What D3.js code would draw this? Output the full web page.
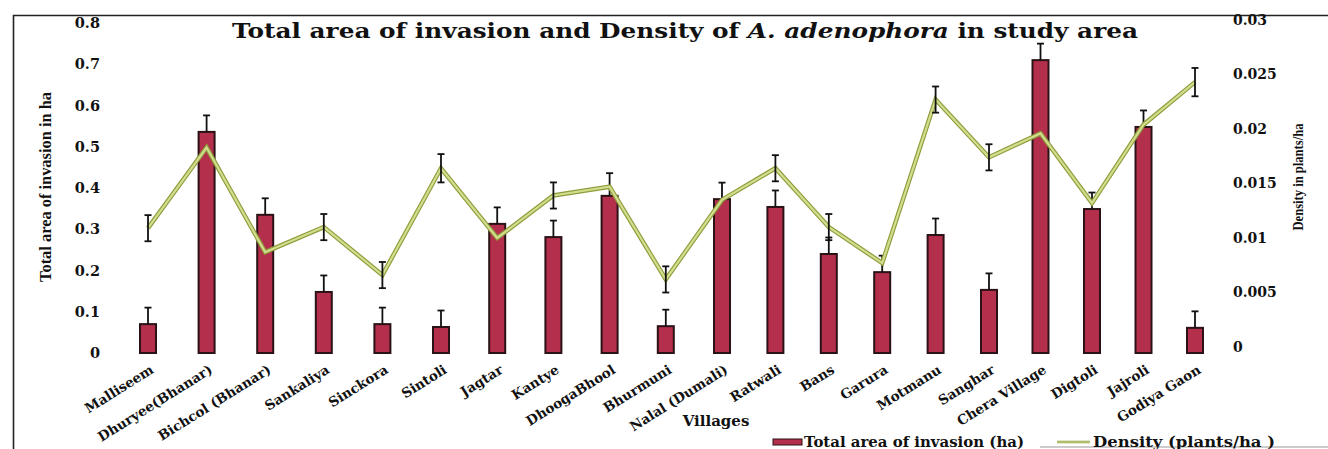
<!DOCTYPE html>
<html><head><meta charset="utf-8">
<script src="https://cdn.jsdelivr.net/npm/d3@7"></script>
<style>body{margin:0;background:#fff}svg{display:block}</style>
</head><body>
<svg id="c" width="1328" height="449"></svg>
<script>
const villages = ["Malliseem","Dhuryee(Bhanar)","Bichcol (Bhanar)","Sankaliya","Sinckora","Sintoli","Jagtar","Kantye","DhoogaBhool","Bhurmuni","Nalal (Dumali)","Ratwali","Bans","Garura","Motmanu","Sanghar","Chera Village","Digtoli","Jajroli","Godiya Gaon"];
const areaHa = [0.070,0.536,0.335,0.148,0.070,0.063,0.313,0.281,0.381,0.065,0.373,0.354,0.240,0.196,0.286,0.153,0.710,0.349,0.548,0.061];
const areaErr = [0.04,0.04,0.04,0.04,0.04,0.04,0.04,0.04,0.055,0.04,0.04,0.04,0.04,0.04,0.04,0.04,0.04,0.04,0.04,0.04];
const density = [0.0109,0.0183,0.0087,0.0110,0.0066,0.0164,0.0100,0.0139,0.0147,0.0062,0.0135,0.0164,0.0110,0.0077,0.0227,0.0174,0.0196,0.0132,0.0204,0.0243];
const densityErr = [0.0012,0,0,0.0012,0.0012,0.0013,0,0.0012,0,0.0012,0,0.0012,0.0012,0,0.0012,0.0012,0,0,0,0.0013];
const leftTicks = [0,0.1,0.2,0.3,0.4,0.5,0.6,0.7,0.8];
const leftTickLabels = ["0","0.1","0.2","0.3","0.4","0.5","0.6","0.7","0.8"];
const rightTicks = [0,0.005,0.01,0.015,0.02,0.025,0.03];
const rightTickLabels = ["0","0.005","0.01","0.015","0.02","0.025","0.03"];

const svg = d3.select("#c");
const serif = "'DejaVu Serif', serif";
const times = "'Liberation Serif', serif";

// frame
svg.append("path").attr("d","M13.5,449 V15.5 H1328").attr("fill","none").attr("stroke","#222").attr("stroke-width",1.6);
svg.append("line").attr("x1",1040).attr("x2",1328).attr("y1",447).attr("y2",447).attr("stroke","#999").attr("stroke-width",1);

const idx = d3.range(villages.length);
const x = d3.scaleLinear().domain([0,5,10,15,19]).range([148,441,722,989,1195]);
const yL = d3.scaleLinear().domain([0,0.8]).range([353,23]);
const yR = d3.scaleLinear().domain([0,0.03]).range([347,20]);
const bw = 16;

// left axis labels
const la = d3.axisLeft(yL).tickValues(leftTicks).tickFormat((d,i)=>leftTickLabels[i]).tickSize(0).tickPadding(0);
const gL = svg.append("g").attr("transform","translate(100,0)").call(la);
gL.select(".domain").remove();
gL.selectAll("text").attr("font-family",serif).attr("font-weight","bold").attr("font-size",14.5).attr("fill","#111");

const ra = d3.axisRight(yR).tickValues(rightTicks).tickFormat((d,i)=>rightTickLabels[i]).tickSize(0).tickPadding(0);
const gR = svg.append("g").attr("transform","translate(1233,0)").call(ra);
gR.select(".domain").remove();
gR.selectAll("text").attr("font-family",serif).attr("font-weight","bold").attr("font-size",14).attr("fill","#111");

// bars
svg.append("g").selectAll("rect").data(idx).join("rect")
  .attr("x",i=>x(i)-bw/2).attr("width",bw)
  .attr("y",i=>yL(areaHa[i])).attr("height",i=>yL(0)-yL(areaHa[i]))
  .attr("fill","#b42f4c").attr("stroke","#2a1216").attr("stroke-width",2);

// bar error bars (up)
const eb = svg.append("g").attr("stroke","#111").attr("stroke-width",1.8);
idx.forEach(i=>{
  const y0 = yL(areaHa[i]), y1 = yL(areaHa[i]+areaErr[i]);
  eb.append("line").attr("x1",x(i)).attr("x2",x(i)).attr("y1",y0).attr("y2",y1);
  eb.append("line").attr("x1",x(i)-3.5).attr("x2",x(i)+3.5).attr("y1",y1).attr("y2",y1);
});

// density line
const line = d3.line().x(i=>x(i)).y(i=>yR(density[i]));
svg.append("path").datum(idx).attr("d",line).attr("fill","none").attr("stroke","#8f9c3c").attr("stroke-width",4.5).attr("stroke-linejoin","miter");
svg.append("path").datum(idx).attr("d",line).attr("fill","none").attr("stroke","#d3dd8e").attr("stroke-width",2.2).attr("stroke-linejoin","miter");

// density error bars
const ed = svg.append("g").attr("stroke","#111").attr("stroke-width",1.8);
idx.filter(i=>densityErr[i]>0).forEach(i=>{
  const a = yR(density[i]+densityErr[i]), b = yR(density[i]-densityErr[i]);
  ed.append("line").attr("x1",x(i)).attr("x2",x(i)).attr("y1",a).attr("y2",b);
  ed.append("line").attr("x1",x(i)-3.5).attr("x2",x(i)+3.5).attr("y1",a).attr("y2",a);
  ed.append("line").attr("x1",x(i)-3.5).attr("x2",x(i)+3.5).attr("y1",b).attr("y2",b);
});

// x labels
svg.append("g").selectAll("text").data(idx).join("text")
  .attr("transform",i=>`translate(${x(i)+1},${363}) rotate(-32)`)
  .attr("text-anchor","end").attr("dy","0.8em")
  .attr("font-family",serif).attr("font-weight","bold").attr("font-size",13.5).attr("fill","#111")
  .text(i=>villages[i]);

svg.append("text").attr("x",716).attr("y",426).attr("text-anchor","middle")
  .attr("font-family",serif).attr("font-weight","bold").attr("font-size",15).attr("fill","#111").text("Villages");

// axis titles
function fit(sel, len){ sel.attr("textLength",len).attr("lengthAdjust","spacingAndGlyphs"); }
const lt = svg.append("text").attr("transform","translate(51,187) rotate(-90)").attr("text-anchor","middle")
  .attr("font-family",times).attr("font-weight","bold").attr("font-size",16).attr("fill","#111").text("Total area of invasion in ha");
fit(lt,190);
const rt = svg.append("text").attr("transform","translate(1303,177) rotate(-90)").attr("text-anchor","middle")
  .attr("font-family",times).attr("font-weight","bold").attr("font-size",15).attr("fill","#111").text("Density in plants/ha");
fit(rt,107);

// title
const tt = svg.append("text").attr("x",232).attr("y",38)
  .attr("font-family",serif).attr("font-weight","bold").attr("font-size",20).attr("fill","#111");
tt.append("tspan").text("Total area of invasion and Density of ");
tt.append("tspan").attr("font-style","italic").text("A. adenophora");
tt.append("tspan").text(" in study area");
fit(tt,906);

// legend
svg.append("rect").attr("x",773).attr("y",439).attr("width",29).attr("height",6).attr("fill","#b42f4c").attr("stroke","#2a1216").attr("stroke-width",1);
const l1 = svg.append("text").attr("x",804).attr("y",447).attr("font-family",serif).attr("font-weight","bold").attr("font-size",14).attr("fill","#111").text("Total area of invasion (ha)");
fit(l1,220);
svg.append("line").attr("x1",1057).attr("x2",1090).attr("y1",442).attr("y2",442).attr("stroke","#8f9c3c").attr("stroke-width",2.5);
svg.append("line").attr("x1",1057).attr("x2",1090).attr("y1",442).attr("y2",442).attr("stroke","#d6df95").attr("stroke-width",1);
const l2 = svg.append("text").attr("x",1093).attr("y",447).attr("font-family",serif).attr("font-weight","bold").attr("font-size",14).attr("fill","#111").text("Density (plants/ha )");
fit(l2,182);
</script>
</body></html>
